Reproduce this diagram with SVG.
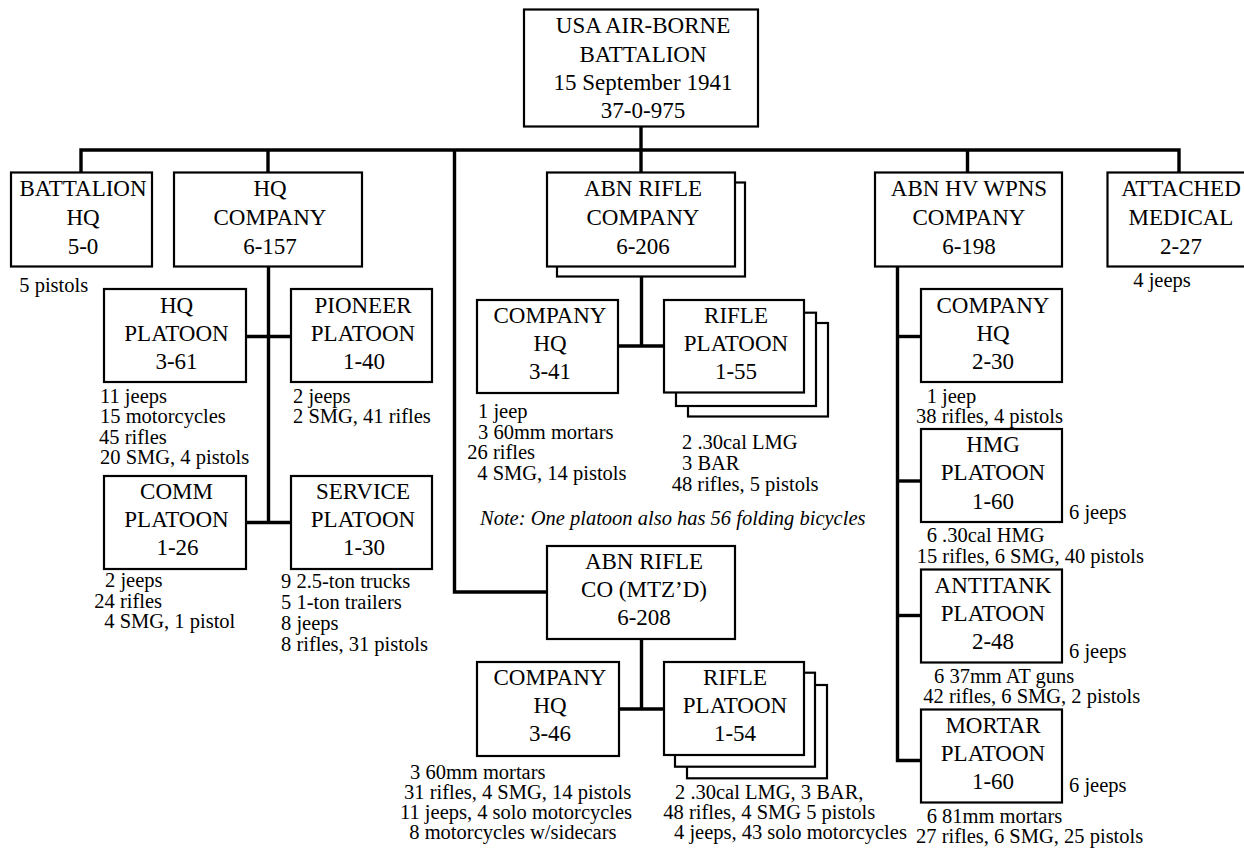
<svg xmlns="http://www.w3.org/2000/svg" width="1244" height="848" viewBox="0 0 1244 848" font-family="'Liberation Serif', 'DejaVu Serif', serif">
<style>
.box{fill:#fff;stroke:#000;stroke-width:2.2}
.conn{fill:none;stroke:#000;stroke-width:3.4;stroke-linejoin:miter}
text{font-family:'Liberation Serif','DejaVu Serif',serif;fill:#000}
.t{font-size:23px;text-anchor:middle}
.s{font-size:20.5px}
.n{font-size:20.5px;font-style:italic}
</style>
<rect width="1244" height="848" fill="#fff"/>
<g id="connectors">
<path class="conn" d="M641,127 V172"/>
<path class="conn" d="M81,172 V150 H1179 V172"/>
<path class="conn" d="M268,150 V172"/>
<path class="conn" d="M967.5,150 V172"/>
<path class="conn" d="M454.5,150 V592 H547"/>
<path class="conn" d="M268.5,267 V524"/>
<path class="conn" d="M246,336.5 H291"/>
<path class="conn" d="M246,522.5 H291"/>
<path class="conn" d="M641.5,267 V346"/>
<path class="conn" d="M618,346 H664"/>
<path class="conn" d="M641.5,639 V709"/>
<path class="conn" d="M619,709 H664"/>
<path class="conn" d="M897.5,267 V760.5 H921"/>
<path class="conn" d="M897.5,336.5 H921"/>
<path class="conn" d="M897.5,481 H921"/>
<path class="conn" d="M897.5,615.5 H921"/>
</g>
<g id="battalion">
<rect class="box" x="524" y="9.5" width="234" height="117"/>
<text class="t" x="643" y="33.3">USA AIR-BORNE</text>
<text class="t" x="643" y="61.7">BATTALION</text>
<text class="t" x="643" y="90">15 September 1941</text>
<text class="t" x="643" y="118.3">37-0-975</text>
</g>
<g id="battalion-hq">
<rect class="box" x="11" y="172.5" width="141" height="94"/>
<text class="t" x="83" y="196.3">BATTALION</text>
<text class="t" x="83" y="225">HQ</text>
<text class="t" x="83" y="253.5">5-0</text>
<text class="s" x="19.3" y="291.7">5 pistols</text>
</g>
<g id="hq-company">
<rect class="box" x="174" y="172.5" width="188" height="94"/>
<text class="t" x="270" y="196.3">HQ</text>
<text class="t" x="270" y="225">COMPANY</text>
<text class="t" x="270" y="253.5">6-157</text>
</g>
<g id="abn-rifle-company">
<rect class="box" x="557" y="182.5" width="188" height="94"/>
<rect class="box" x="547" y="172.5" width="188" height="94"/>
<text class="t" x="643" y="196.3">ABN RIFLE</text>
<text class="t" x="643" y="225">COMPANY</text>
<text class="t" x="643" y="253.5">6-206</text>
</g>
<g id="abn-hv-wpns-company">
<rect class="box" x="875" y="172.5" width="187" height="94"/>
<text class="t" x="969" y="196.3">ABN HV WPNS</text>
<text class="t" x="969" y="225">COMPANY</text>
<text class="t" x="969" y="253.5">6-198</text>
</g>
<g id="attached-medical">
<rect class="box" x="1107.5" y="172.5" width="146" height="94"/>
<text class="t" x="1181" y="196.3">ATTACHED</text>
<text class="t" x="1181" y="225">MEDICAL</text>
<text class="t" x="1181" y="253.5">2-27</text>
<text class="s" x="1133.3" y="286.7">4 jeeps</text>
</g>
<g id="hq-platoon">
<rect class="box" x="104" y="289" width="142" height="93"/>
<text class="t" x="176.5" y="312.7">HQ</text>
<text class="t" x="176.5" y="341">PLATOON</text>
<text class="t" x="176.5" y="368.5">3-61</text>
<text class="s" x="100" y="402.7">11 jeeps</text>
<text class="s" x="100" y="423.3">15 motorcycles</text>
<text class="s" x="99" y="444">45 rifles</text>
<text class="s" x="100" y="464.3">20 SMG, 4 pistols</text>
</g>
<g id="pioneer-platoon">
<rect class="box" x="291" y="289" width="141" height="93"/>
<text class="t" x="363" y="312.7">PIONEER</text>
<text class="t" x="363" y="341">PLATOON</text>
<text class="t" x="364" y="368.5">1-40</text>
<text class="s" x="293" y="402.7">2 jeeps</text>
<text class="s" x="293" y="423.3">2 SMG, 41 rifles</text>
</g>
<g id="comm-platoon">
<rect class="box" x="104" y="476" width="142" height="93"/>
<text class="t" x="176.5" y="498.5">COMM</text>
<text class="t" x="176.5" y="526.8">PLATOON</text>
<text class="t" x="177.5" y="555">1-26</text>
<text class="s" x="105" y="587.3">2 jeeps</text>
<text class="s" x="94.3" y="607.5">24 rifles</text>
<text class="s" x="104.3" y="627.8">4 SMG, 1 pistol</text>
</g>
<g id="service-platoon">
<rect class="box" x="291" y="476" width="141" height="93"/>
<text class="t" x="363" y="498.5">SERVICE</text>
<text class="t" x="363" y="526.8">PLATOON</text>
<text class="t" x="364" y="555">1-30</text>
<text class="s" x="281" y="588.3">9 2.5-ton trucks</text>
<text class="s" x="281" y="609">5 1-ton trailers</text>
<text class="s" x="281" y="630">8 jeeps</text>
<text class="s" x="281" y="651">8 rifles, 31 pistols</text>
</g>
<g id="rifle-co-hq">
<rect class="box" x="477" y="300" width="141" height="93"/>
<text class="t" x="550" y="322.7">COMPANY</text>
<text class="t" x="550" y="351">HQ</text>
<text class="t" x="550" y="379">3-41</text>
<text class="s" x="478" y="418.3">1 jeep</text>
<text class="s" x="478" y="439.3">3 60mm mortars</text>
<text class="s" x="467.3" y="459.3">26 rifles</text>
<text class="s" x="477.3" y="479.5">4 SMG, 14 pistols</text>
</g>
<g id="rifle-platoon">
<rect class="box" x="688" y="323" width="140" height="93.5"/>
<rect class="box" x="676" y="312.7" width="140" height="93.3"/>
<rect class="box" x="664" y="300" width="140" height="92.5"/>
<text class="t" x="736" y="322.7">RIFLE</text>
<text class="t" x="736" y="351">PLATOON</text>
<text class="t" x="736" y="379">1-55</text>
<text class="s" x="682" y="449.3">2 .30cal LMG</text>
<text class="s" x="682" y="469.5">3 BAR</text>
<text class="s" x="671.7" y="490.7">48 rifles, 5 pistols</text>
<text class="n" x="480" y="525">Note: One platoon also has 56 folding bicycles</text>
</g>
<g id="abn-rifle-co-mtzd">
<rect class="box" x="547" y="546" width="188" height="93"/>
<text class="t" x="644" y="568.5">ABN RIFLE</text>
<text class="t" x="644" y="597.3">CO (MTZ’D)</text>
<text class="t" x="644" y="625">6-208</text>
</g>
<g id="mtz-co-hq">
<rect class="box" x="477" y="662" width="142" height="94"/>
<text class="t" x="550" y="684.7">COMPANY</text>
<text class="t" x="550" y="713">HQ</text>
<text class="t" x="550" y="741">3-46</text>
<text class="s" x="410" y="779.3">3 60mm mortars</text>
<text class="s" x="404" y="799.3">31 rifles, 4 SMG, 14 pistols</text>
<text class="s" x="400" y="819">11 jeeps, 4 solo motorcycles</text>
<text class="s" x="409.3" y="839">8 motorcycles w/sidecars</text>
</g>
<g id="mtz-rifle-platoon">
<rect class="box" x="687" y="685" width="140" height="93.3"/>
<rect class="box" x="675" y="672.7" width="140" height="94"/>
<rect class="box" x="664" y="662" width="140" height="93"/>
<text class="t" x="735" y="684.7">RIFLE</text>
<text class="t" x="735" y="713">PLATOON</text>
<text class="t" x="735" y="741">1-54</text>
<text class="s" x="675" y="799.3">2 .30cal LMG,  3 BAR,</text>
<text class="s" x="663.3" y="819">48 rifles, 4 SMG 5 pistols</text>
<text class="s" x="674" y="839">4 jeeps, 43 solo motorcycles</text>
</g>
<g id="hv-co-hq">
<rect class="box" x="921" y="289" width="141" height="93"/>
<text class="t" x="993" y="312.7">COMPANY</text>
<text class="t" x="993" y="341">HQ</text>
<text class="t" x="993" y="368.5">2-30</text>
<text class="s" x="926.7" y="402.7">1 jeep</text>
<text class="s" x="916" y="422.7">38 rifles, 4 pistols</text>
</g>
<g id="hmg-platoon">
<rect class="box" x="921" y="429" width="141" height="93"/>
<text class="t" x="993" y="452">HMG</text>
<text class="t" x="993" y="480.3">PLATOON</text>
<text class="t" x="993" y="508.5">1-60</text>
<text class="s" x="1069" y="519.3">6 jeeps</text>
<text class="s" x="926.7" y="541.7">6 .30cal HMG</text>
<text class="s" x="916.7" y="562.7">15 rifles, 6 SMG, 40 pistols</text>
</g>
<g id="antitank-platoon">
<rect class="box" x="921" y="569.5" width="141" height="93"/>
<text class="t" x="993" y="592.5">ANTITANK</text>
<text class="t" x="993" y="620.8">PLATOON</text>
<text class="t" x="993" y="649">2-48</text>
<text class="s" x="1069" y="658.3">6 jeeps</text>
<text class="s" x="934" y="682.7">6 37mm AT guns</text>
<text class="s" x="923.3" y="702.7">42 rifles, 6 SMG, 2 pistols</text>
</g>
<g id="mortar-platoon">
<rect class="box" x="921" y="709.5" width="141" height="93"/>
<text class="t" x="993" y="732.5">MORTAR</text>
<text class="t" x="993" y="760.8">PLATOON</text>
<text class="t" x="993" y="789">1-60</text>
<text class="s" x="1069" y="791.7">6 jeeps</text>
<text class="s" x="926.7" y="822.7">6 81mm mortars</text>
<text class="s" x="916" y="842.7">27 rifles, 6 SMG, 25 pistols</text>
</g>
</svg>
